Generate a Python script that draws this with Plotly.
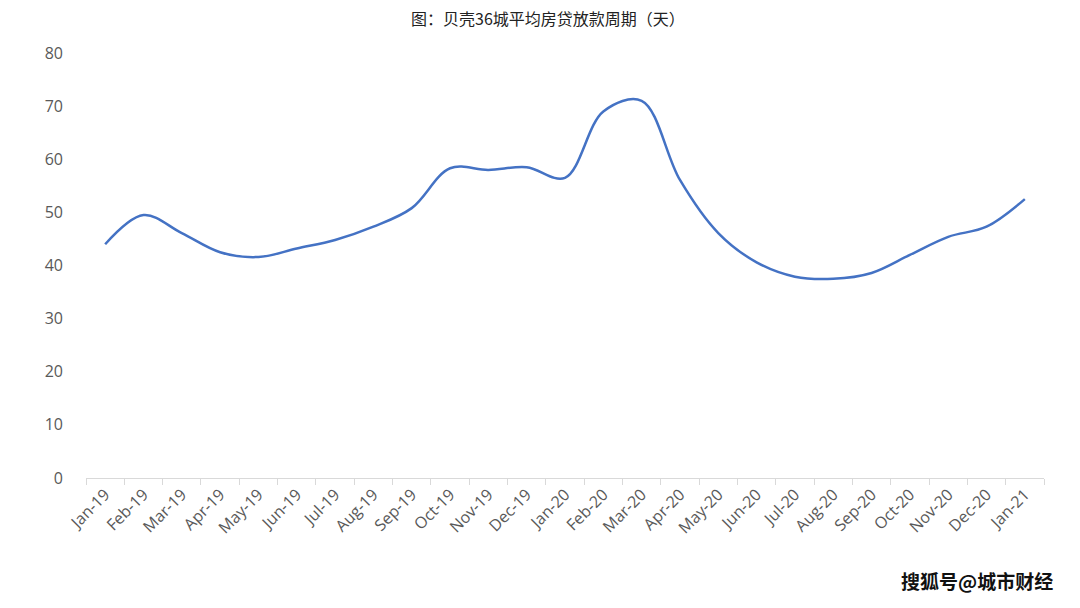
import plotly.graph_objects as go

months = ["Jan-19", "Feb-19", "Mar-19", "Apr-19", "May-19", "Jun-19", "Jul-19", "Aug-19",
          "Sep-19", "Oct-19", "Nov-19", "Dec-19", "Jan-20", "Feb-20", "Mar-20", "Apr-20",
          "May-20", "Jun-20", "Jul-20", "Aug-20", "Sep-20", "Oct-20", "Nov-20", "Dec-20", "Jan-21"]
days = [44.0, 49.5, 46.1, 42.5, 41.6, 43.2, 44.8, 47.3, 50.8, 58.3, 58.0, 58.5, 56.5,
        69.0, 71.0, 56.1, 46.1, 40.6, 37.9, 37.5, 38.6, 42.0, 45.4, 47.3, 52.5]
yticks = [0, 10, 20, 30, 40, 50, 60, 70, 80]

fig = go.Figure()
fig.add_trace(go.Scatter(
    x=months, y=days, mode="lines",
    line=dict(color="#4472C4", width=2.5, shape="spline", smoothing=1.0),
    showlegend=False, hoverinfo="x+y",
))

fig.update_layout(
    width=1080, height=608,
    margin=dict(l=78, r=44, t=45, b=138, autoexpand=False),
    paper_bgcolor="white", plot_bgcolor="white",
    title=dict(text="图：贝壳36城平均房贷放款周期（天）", x=0.5, xanchor="center",
               y=0.982, yanchor="middle",
               font=dict(family="Noto Sans CJK SC", size=16, color="#222222")),
    font=dict(family="Open Sans", color="#595959"),
    xaxis=dict(
        type="category", tickson="boundaries", ticks="outside", ticklen=6,
        tickcolor="#d9d9d9", showline=True, linecolor="#d9d9d9", linewidth=1,
        showgrid=False, tickangle=-45, tickfont=dict(size=16, color="#595959"),
        range=[-0.5, len(months) - 0.5], automargin=False,
    ),
    yaxis=dict(
        range=[0, 80], tickvals=yticks, showgrid=False, zeroline=False,
        showline=False, ticks="", ticklabelstandoff=22, automargin=False,
        tickfont=dict(size=16, color="#595959"),
    ),
    annotations=[dict(
        text="<b>搜狐号@城市财经</b>", xref="paper", yref="paper",
        x=1.0115, y=-0.24, xanchor="right", yanchor="middle", showarrow=False,
        font=dict(family="Noto Sans CJK SC", size=19, color="#111111"),
    )],
)

fig.write_html("out.html")
